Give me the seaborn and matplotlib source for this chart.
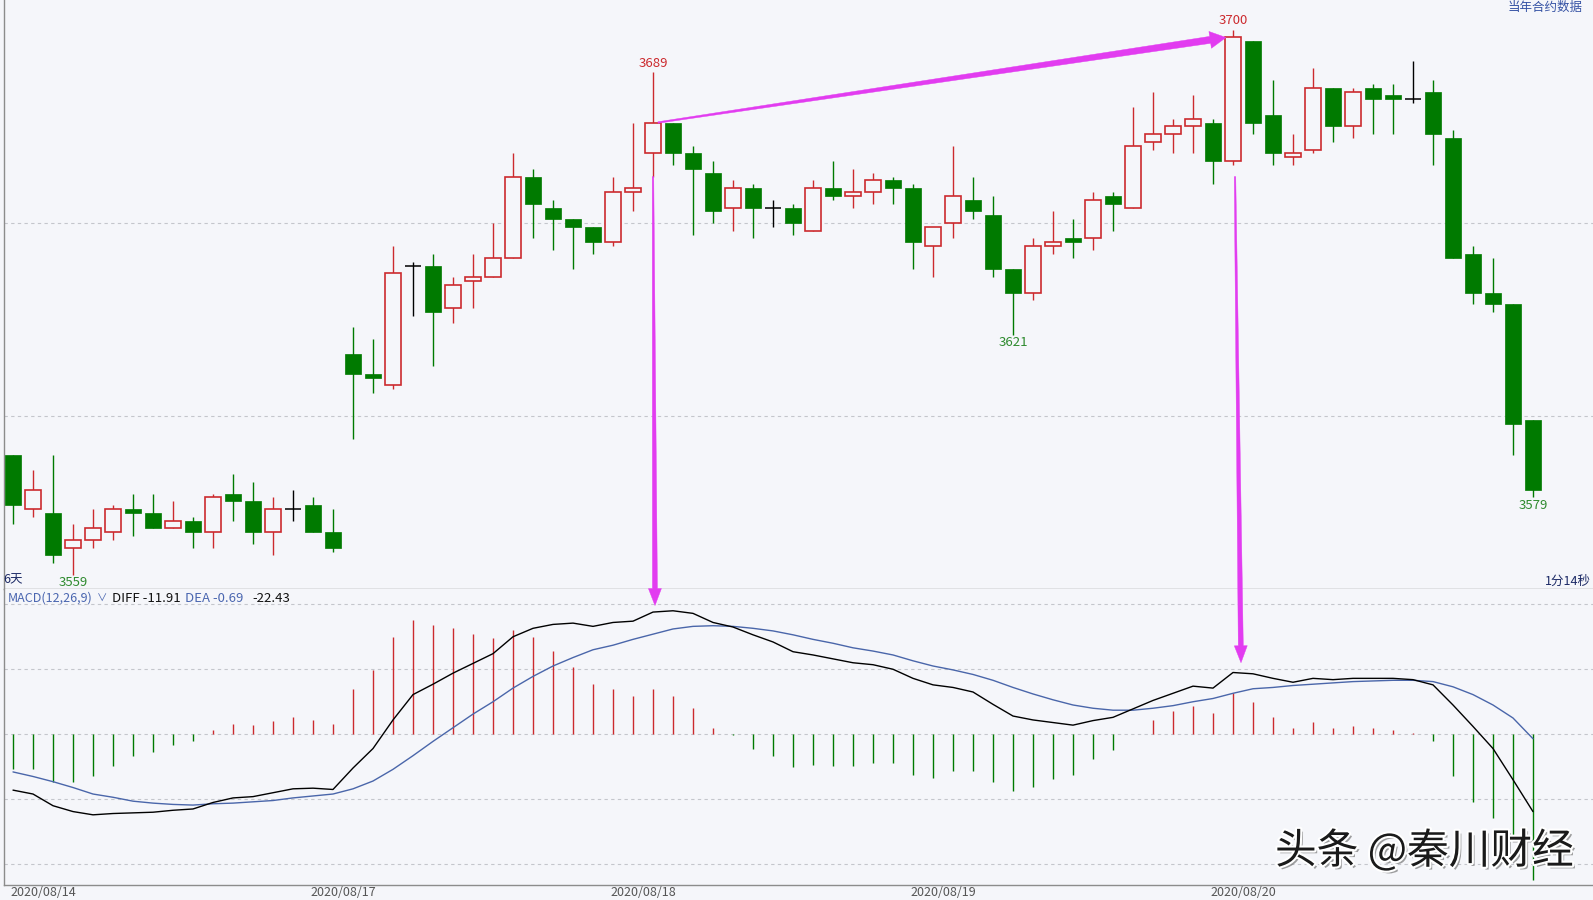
import matplotlib
matplotlib.use('Agg')
import matplotlib.pyplot as plt
import matplotlib.patheffects as pe
from matplotlib.patches import Polygon
import numpy as np
import pandas as pd
import seaborn as sns


# candle data
opens = [3590, 3576, 3575, 3566, 3568, 3570, 3576, 3575, 3571, 3573,
         3570, 3580, 3578, 3570, 3576, 3577, 3570, 3616, 3611, 3608,
         3639, 3639, 3628, 3635, 3636, 3641, 3662, 3654, 3651, 3649,
         3645, 3658, 3668, 3676, 3668, 3663, 3654, 3659, 3654, 3654,
         3648, 3659, 3657, 3658, 3661, 3659, 3644, 3650, 3656, 3652,
         3638, 3632, 3644, 3646, 3646, 3657, 3654, 3671, 3673, 3675,
         3676, 3666, 3697, 3678, 3667, 3669, 3685, 3675, 3685, 3683,
         3682, 3684, 3672, 3642, 3632, 3629, 3599]
highs = [3590, 3586, 3590, 3572, 3576, 3577, 3580, 3580, 3578, 3574,
         3580, 3585, 3583, 3579, 3581, 3579, 3576, 3623, 3620, 3644,
         3640, 3642, 3636, 3642, 3650, 3668, 3664, 3656, 3651, 3649,
         3662, 3676, 3689, 3676, 3670, 3666, 3661, 3660, 3656, 3655,
         3661, 3666, 3664, 3663, 3662, 3660, 3649, 3670, 3662, 3657,
         3638, 3646, 3653, 3651, 3658, 3658, 3680, 3684, 3677, 3683,
         3677, 3700, 3697, 3687, 3673, 3690, 3685, 3685, 3686, 3686,
         3692, 3687, 3674, 3644, 3641, 3629, 3599]
lows = [3572, 3574, 3562, 3559, 3566, 3568, 3569, 3571, 3571, 3566,
        3566, 3573, 3567, 3564, 3573, 3570, 3565, 3594, 3606, 3607,
        3626, 3613, 3624, 3628, 3636, 3641, 3646, 3643, 3638, 3642,
        3644, 3653, 3662, 3665, 3647, 3650, 3648, 3646, 3649, 3647,
        3648, 3656, 3654, 3655, 3655, 3638, 3636, 3646, 3651, 3636,
        3621, 3630, 3642, 3641, 3643, 3648, 3654, 3669, 3668, 3668,
        3660, 3665, 3673, 3665, 3665, 3668, 3671, 3672, 3673, 3673,
        3681, 3665, 3641, 3629, 3627, 3590, 3579]
closes = [3577, 3581, 3564, 3568, 3571, 3576, 3575, 3571, 3573, 3570,
          3579, 3578, 3570, 3576, 3576, 3570, 3566, 3611, 3610, 3637,
          3639, 3627, 3634, 3636, 3641, 3662, 3655, 3651, 3649, 3645,
          3658, 3659, 3676, 3668, 3664, 3653, 3659, 3654, 3654, 3650,
          3659, 3657, 3658, 3661, 3659, 3645, 3649, 3657, 3653, 3638,
          3632, 3644, 3645, 3645, 3656, 3655, 3670, 3673, 3675, 3677,
          3666, 3698, 3676, 3668, 3668, 3685, 3675, 3684, 3682, 3682,
          3682, 3673, 3641, 3632, 3629, 3598, 3581]

# MACD(12,26,9) values
diff = [-8.6, -9.2, -11.0, -11.9, -12.4, -12.2, -12.1, -12.0, -11.7, -11.5,
        -10.5, -9.8, -9.6, -9.0, -8.4, -8.3, -8.5, -5.2, -2.2, 2.2,
        6.1, 7.7, 9.4, 10.9, 12.4, 15.0, 16.3, 16.9, 17.1, 16.6,
        17.2, 17.4, 18.8, 19.0, 18.6, 17.2, 16.5, 15.3, 14.2, 12.7,
        12.2, 11.6, 11.0, 10.7, 10.0, 8.6, 7.6, 7.2, 6.5, 4.6,
        2.8, 2.2, 1.8, 1.4, 2.1, 2.6, 3.9, 5.2, 6.3, 7.4,
        7.1, 9.5, 9.3, 8.6, 8.0, 8.6, 8.4, 8.6, 8.6, 8.6,
        8.4, 7.6, 4.5, 1.2, -2.2, -7.0, -11.91]
dea = [-5.8, -6.5, -7.3, -8.2, -9.2, -9.7, -10.3, -10.6, -10.8, -10.9,
       -10.7, -10.6, -10.4, -10.2, -9.8, -9.5, -9.2, -8.4, -7.2, -5.4,
       -3.3, -1.1, 1.0, 3.1, 5.0, 7.1, 8.9, 10.5, 11.8, 13.0,
       13.7, 14.6, 15.4, 16.2, 16.6, 16.7, 16.6, 16.3, 15.9, 15.3,
       14.6, 14.0, 13.3, 12.8, 12.2, 11.3, 10.5, 9.9, 9.2, 8.3,
       7.2, 6.2, 5.3, 4.5, 4.0, 3.7, 3.7, 4.0, 4.4, 5.0,
       5.5, 6.3, 7.0, 7.2, 7.5, 7.7, 7.9, 8.1, 8.2, 8.3,
       8.3, 8.1, 7.3, 6.1, 4.5, 2.5, -0.69]
hist = [-5.4, -5.4, -7.3, -7.3, -6.5, -4.9, -3.4, -2.7, -1.7, -1.1,
        0.6, 1.6, 1.4, 2.1, 2.7, 2.2, 1.6, 7.0, 9.9, 15.0,
        17.6, 16.8, 16.4, 15.5, 14.8, 16.0, 15.0, 12.8, 10.4, 7.7,
        6.9, 5.9, 6.9, 5.9, 4.1, 1.0, -0.1, -2.3, -3.4, -5.0,
        -4.7, -4.9, -4.9, -4.4, -4.4, -6.2, -6.7, -5.7, -5.6, -7.3,
        -8.8, -8.1, -6.9, -6.2, -3.8, -2.5, 0.1, 2.2, 3.6, 4.4,
        3.2, 6.3, 5.0, 2.7, 0.9, 1.9, 0.9, 1.3, 0.9, 0.7,
        0.2, -1.1, -6.4, -10.5, -12.9, -16.0, -22.43]

date_labels = ['2020/08/14', '2020/08/17', '2020/08/18', '2020/08/19', '2020/08/20']
date_starts = [0, 15, 30, 45, 60]

BG = '#f5f6fa'
RED = '#cc2a2e'
GREEN = '#007a00'
MAGENTA = '#e23cf0'
GRID = '#c4c6cc'
W, H = 1593, 900


def fx(px):
    return px / W


def fy(py):
    return 1 - py / H


sns.set_theme(style='white')
plt.rcParams['font.family'] = ['Noto Sans CJK SC', 'DejaVu Sans']

fig = plt.figure(figsize=(W / 100, H / 100), dpi=100, facecolor=BG)
ax_p = fig.add_axes([fx(4), fy(589), fx(W) - fx(4), 589 / H])
ax_m = fig.add_axes([fx(4), fy(885), fx(W) - fx(4), (885 - 589) / H])

for ax in (ax_p, ax_m):
    ax.set_facecolor(BG)
    ax.set_xlim(-0.45, 79.0)
    ax.set_xticks([])
    ax.set_yticks([])
    for side in ('top', 'right'):
        ax.spines[side].set_visible(False)
    for side in ('left', 'bottom'):
        ax.spines[side].set_color('#8c8c8c')
        ax.spines[side].set_linewidth(1.0)

ax_p.set_ylim(3555.3, 3707.7)
ax_m.set_ylim(-23.2, 22.35)

for lvl in (3650, 3600):
    ax_p.axhline(lvl, color=GRID, lw=0.8, ls=(0, (3, 3)), zorder=0)
for lvl in (-20, -10, 0, 10, 20):
    ax_m.axhline(lvl, color=GRID, lw=0.8, ls=(0, (3, 3)), zorder=0)

# candles
idx = np.arange(len(opens))
o = np.array(opens)
c = np.array(closes)
hi = np.array(highs)
lo = np.array(lows)
up = c > o
down = c < o
doji = c == o
bw = 0.82

ax_p.vlines(idx[up], lo[up], hi[up], color=RED, lw=1.0, zorder=2)
ax_p.vlines(idx[down], lo[down], hi[down], color=GREEN, lw=1.0, zorder=2)
ax_p.vlines(idx[doji], lo[doji], hi[doji], color='black', lw=1.0, zorder=2)
ax_p.bar(idx[up], (c - o)[up], bottom=o[up], width=bw - 0.06,
         facecolor=BG, edgecolor=RED, linewidth=1.2, zorder=3)
ax_p.bar(idx[down], (o - c)[down], bottom=c[down], width=bw,
         facecolor=GREEN, edgecolor=GREEN, linewidth=0.5, zorder=3)
ax_p.hlines(o[doji], idx[doji] - bw / 2, idx[doji] + bw / 2, color='black', lw=1.1, zorder=3)

# extreme price labels
for i, txt, col, off in [(32, '3689', RED, 6.5), (61, '3700', RED, 6.5),
                         (3, '3559', '#2e8a2e', -5.6), (50, '3621', '#2e8a2e', -5.6),
                         (76, '3579', '#2e8a2e', -5.6)]:
    yv = highs[i] if off > 0 else lows[i]
    ax_p.annotate(txt, xy=(i, yv), xytext=(0, off), textcoords='offset points',
                  ha='center', va='center', fontsize=9.5, color=col)

# MACD panel
hv = np.array(hist)
ax_m.vlines(idx[hv > 0], 0, hv[hv > 0], color=RED, lw=1.0, zorder=2)
ax_m.vlines(idx[hv < 0], 0, hv[hv < 0], color=GREEN, lw=1.0, zorder=2)
df = pd.DataFrame({'idx': idx, 'diff': diff, 'dea': dea})
sns.lineplot(data=df, x='idx', y='dea', ax=ax_m, color='#4a66aa', lw=1.0, zorder=3)
sns.lineplot(data=df, x='idx', y='diff', ax=ax_m, color='black', lw=1.0, zorder=4)
ax_m.set_xlabel('')
ax_m.set_ylabel('')
ax_m.set_xticks([])
ax_m.set_yticks([])
ax_m.set_xlim(-0.45, 79.0)
ax_m.set_ylim(-23.2, 22.35)

# date labels
for start, lab in zip(date_starts, date_labels):
    xp = ax_m.transData.transform((start - 0.15, 0))[0]
    fig.text(fx(xp), fy(893), lab, ha='left', va='center', fontsize=9, color='#555555')

# header / corner texts
fig.text(fx(8), fy(598.5), 'MACD(12,26,9)', ha='left', va='center', fontsize=9, color='#4a66b0')
fig.text(fx(97), fy(599), '∨', ha='left', va='center', fontsize=7.5, color='#4a66b0')
fig.text(fx(112), fy(598.5), 'DIFF -11.91', ha='left', va='center', fontsize=9.5, color='#111111')
fig.text(fx(185), fy(598.5), 'DEA -0.69', ha='left', va='center', fontsize=9.5, color='#4a66b0')
fig.text(fx(252), fy(598.5), '-22.43', ha='left', va='center', fontsize=9.5, color='#111111')
fig.text(fx(3), fy(580), '6天', ha='left', va='center', fontsize=9, color='#1c2a66')
fig.text(fx(1591), fy(581), '1分14秒', ha='right', va='center', fontsize=9, color='#1c2a66')
fig.text(fx(1583), fy(7), '当年合约数据', ha='right', va='center', fontsize=9, color='#3552a4')


# tapered magenta arrows
def arrow(p0, p1, w0, w1, head_len, head_w):
    p0 = np.asarray(p0, float)
    p1 = np.asarray(p1, float)
    d = (p1 - p0) / np.hypot(*(p1 - p0))
    n = np.array([-d[1], d[0]])
    base = p1 - d * head_len
    pts = [p0 + n * w0 / 2, base + n * w1 / 2, base + n * head_w / 2, p1,
           base - n * head_w / 2, base - n * w1 / 2, p0 - n * w0 / 2]
    pts = fig.transFigure.inverted().transform(np.array(pts))
    fig.add_artist(Polygon(pts, closed=True, transform=fig.transFigure,
                           facecolor=MAGENTA, edgecolor=MAGENTA, lw=0.3, zorder=10))


tp = ax_p.transData.transform
tm = ax_m.transData.transform
arrow(tp((32.25, closes[32])), tp((60.65, closes[61])), 1.5, 7, 16, 17)
arrow(tp((32.0, lows[32])), tm((32.1, diff[32] + 1.0)), 1.5, 5, 17, 13)
arrow(tp((61.1, lows[61] - 3)), tm((61.4, diff[61] + 1.5)), 1.5, 5, 17, 13)

# watermark
fig.text(fx(1275), fy(851), '头条 @秦川财经', ha='left', va='center', fontsize=30,
         color='#1a1a1a', zorder=20,
         path_effects=[pe.SimplePatchShadow(offset=(2, -2), shadow_rgbFace='#777777', alpha=0.7),
                       pe.Stroke(linewidth=3, foreground='white'), pe.Normal()])

fig.savefig('out.png', dpi=100, facecolor=BG)
